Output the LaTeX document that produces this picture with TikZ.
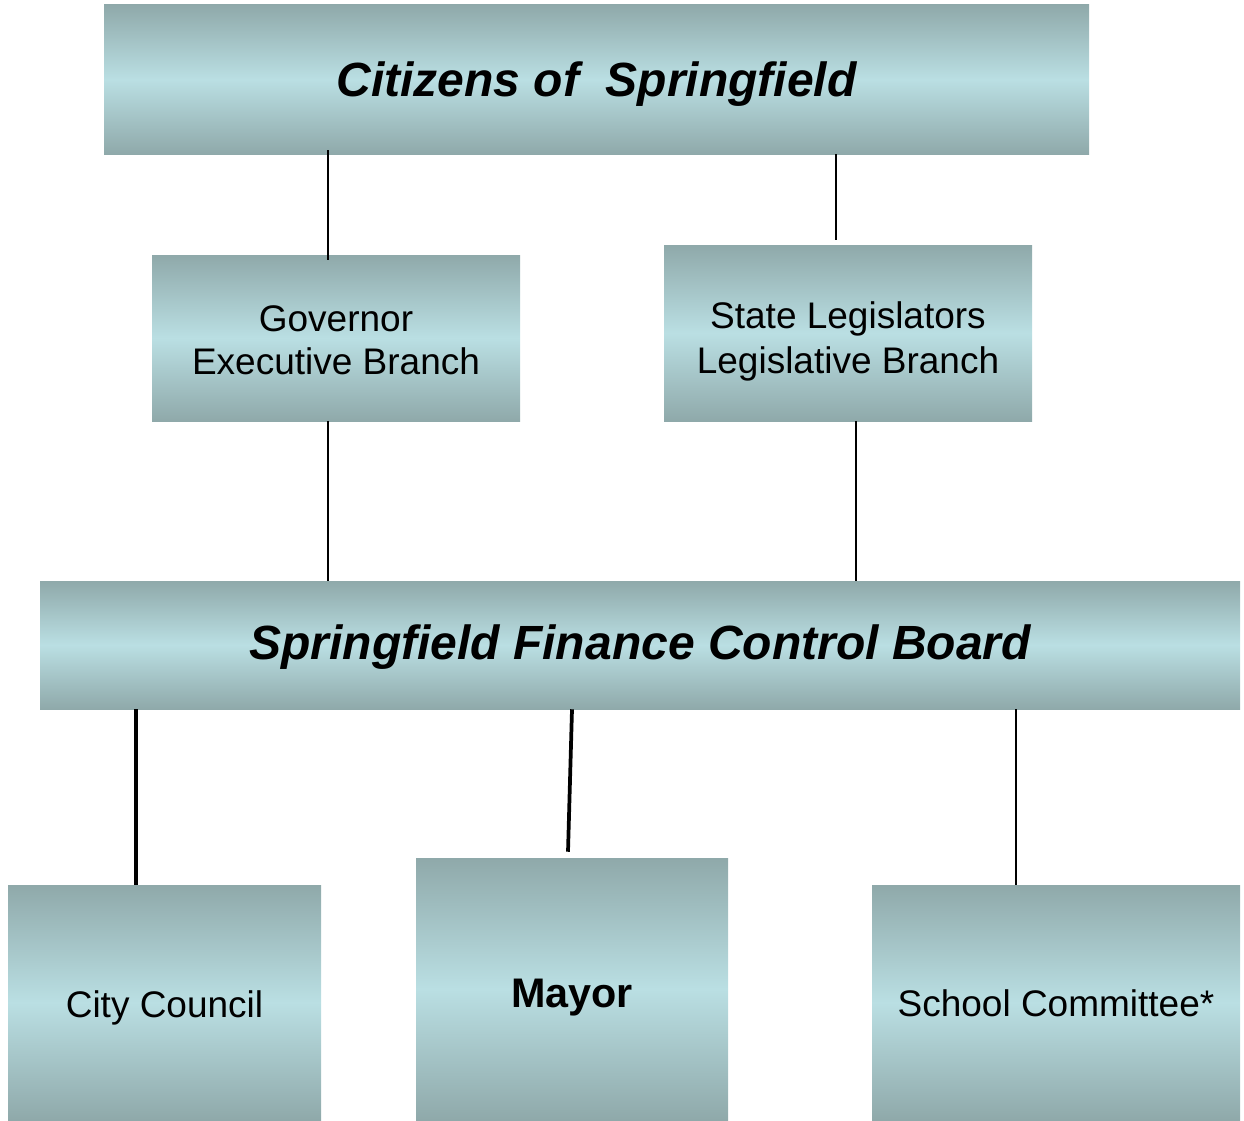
\documentclass[tikz,border=0pt]{standalone}
\usepackage{fontspec}
\setmainfont{Liberation Sans}
\usetikzlibrary{shapes,backgrounds}

\definecolor{boxedge}{HTML}{8FA9AA}
\definecolor{boxmid}{HTML}{BADFE3}

\tikzset{
  panel/.style={rectangle, inner sep=0pt, top color=boxedge,
    bottom color=boxedge, middle color=boxmid, align=center},
  thinline/.style={line width=1.5pt},
  thickline/.style={line width=2.8pt}
}

\begin{document}
\begin{tikzpicture}[x=0.75pt, y=-0.75pt]
\useasboundingbox (0,0) rectangle (1244,1120);

% Top box
\node [panel,
    minimum width=738.75pt,
    minimum height=111.75pt,
    text height=25.5pt, text depth=0pt,
    font=\fontsize{36}{40}\selectfont\bfseries\itshape] (citizens) at (596.5,79.5) {Citizens of~~Springfield};

% Branches
\node [panel,
    minimum width=276pt,
    minimum height=124.5pt,
    text height=54pt, text depth=0pt,
    font=\fontsize{27.75}{32}\selectfont] (governor) at (336,338) {Governor\\Executive Branch};

\node [panel,
    minimum width=276pt,
    minimum height=132pt,
    text height=60pt, text depth=0pt,
    font=\fontsize{27.75}{33.5}\selectfont] (legis) at (848,333) {State Legislators\\Legislative Branch};

% Control board
\node [panel,
    minimum width=900pt,
    minimum height=96pt,
    text height=21pt, text depth=0pt,
    font=\fontsize{36}{40}\selectfont\bfseries\itshape] (board) at (640,645) {Springfield Finance Control Board};

% City offices
\node [panel,
    minimum width=234.75pt,
    minimum height=176.25pt,
    text height=21.75pt, text depth=0pt,
    font=\fontsize{27.75}{32}\selectfont] (council) at (164.5,1002.5) {City Council};

\node [panel,
    minimum width=234pt,
    minimum height=196.5pt,
    text height=27pt, text depth=0pt,
    font=\fontsize{31}{36}\selectfont\bfseries] (mayor) at (572,989) {Mayor};

\node [panel,
    minimum width=276pt,
    minimum height=176.25pt,
    text height=20.25pt, text depth=0pt,
    font=\fontsize{27.75}{32}\selectfont] (school) at (1056,1002.5) {School Committee*};

% Connectors
\draw [thinline] ([shift={(-268.5,-4)}]citizens.south) -- ([shift={(-8,5)}]governor.north);
\draw [thinline] ([shift={(239.5,0)}]citizens.south) -- ([shift={(-12,-5)}]legis.north);
\draw [thinline] ([xshift=-6pt]governor.south) -- ([xshift=-6pt]governor.south |- board.north);
\draw [thinline] ([xshift=6pt]legis.south) -- ([xshift=6pt]legis.south |- board.north);
\draw [thickline] ([xshift=-21.4pt]council.north |- board.south) -- ([xshift=-21.4pt]council.north);
\draw [thickline] (board.south -| mayor.north) -- ([shift={(-4,-6)}]mayor.north);
\draw [thinline] ([xshift=-30pt]school.north |- board.south) -- ([xshift=-30pt]school.north);

\end{tikzpicture}
\end{document}
